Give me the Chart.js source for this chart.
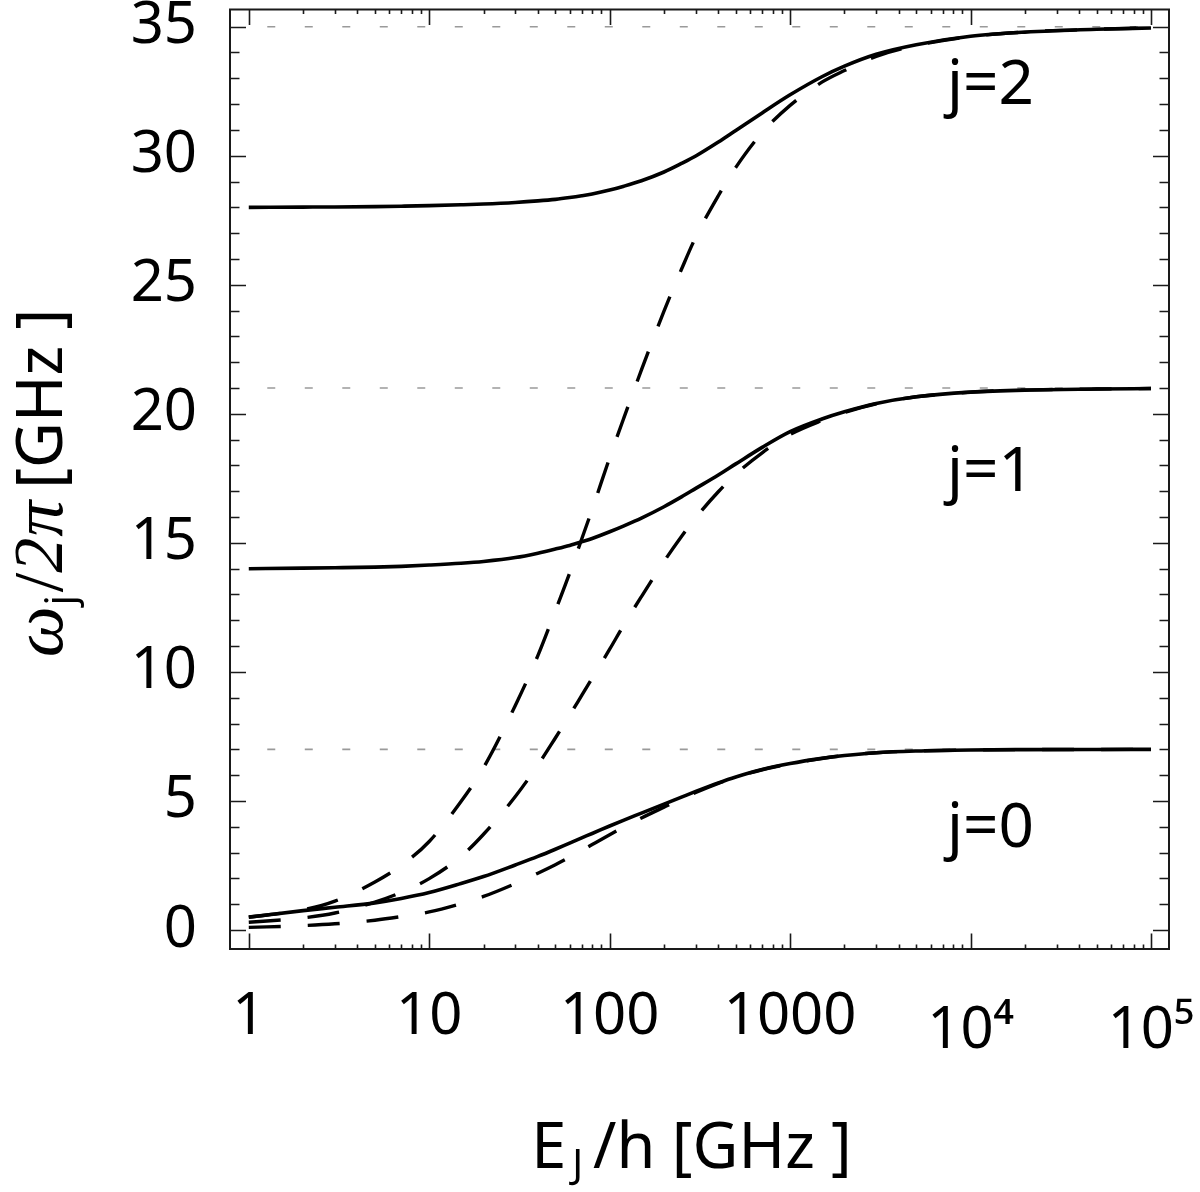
<!DOCTYPE html>
<html>
<head>
<meta charset="utf-8">
<script src="https://cdn.jsdelivr.net/npm/chart.js@4.4.1/dist/chart.umd.min.js"></script>
<style>
html,body{margin:0;padding:0;background:#ffffff;}
#wrap{width:1200px;height:1192px;position:relative;}
</style>
</head>
<body>
<div id="wrap"><canvas id="c" width="1200" height="1192"></canvas></div>
<script>
// ---------------- DATA ----------------
const xValues   = [1, 2, 3, 5, 7, 10, 15, 20, 30, 40, 50, 60, 70, 80, 100, 120, 150, 200, 250, 300, 400, 500, 700, 1000, 1500, 2000, 3000, 5000, 10000, 20000, 50000, 100000];
// exact levels (solid)
const solidJ0   = [0.50, 0.75, 0.88, 1.05, 1.22, 1.45, 1.80, 2.07, 2.52, 2.85, 3.13, 3.37, 3.57, 3.74, 4.03, 4.26, 4.53, 4.88, 5.15, 5.37, 5.70, 5.93, 6.22, 6.45, 6.65, 6.76, 6.87, 6.935, 6.975, 6.99, 6.995, 7.00];
const solidJ1   = [14.00, 14.02, 14.035, 14.06, 14.09, 14.14, 14.21, 14.28, 14.43, 14.60, 14.76, 14.90, 15.04, 15.17, 15.43, 15.66, 15.96, 16.40, 16.78, 17.11, 17.63, 18.06, 18.70, 19.31, 19.80, 20.08, 20.40, 20.66, 20.84, 20.92, 20.96, 20.98];
const solidJ2   = [28.00, 28.01, 28.015, 28.03, 28.045, 28.065, 28.10, 28.13, 28.19, 28.25, 28.31, 28.38, 28.45, 28.52, 28.67, 28.82, 29.03, 29.37, 29.70, 29.99, 30.53, 30.98, 31.66, 32.36, 33.06, 33.47, 33.93, 34.30, 34.63, 34.79, 34.90, 34.95];
// approximations (dashed)
const dashedJ0  = [0.10, 0.17, 0.24, 0.38, 0.52, 0.70, 1.02, 1.30, 1.80, 2.20, 2.53, 2.82, 3.08, 3.31, 3.69, 3.99, 4.34, 4.76, 5.08, 5.33, 5.68, 5.92, 6.21, 6.44, 6.65, 6.76, 6.87, 6.935, 6.975, 6.99, 6.995, 7.00];
const dashedJ1  = [0.30, 0.47, 0.66, 1.08, 1.46, 1.99, 2.85, 3.71, 5.17, 6.39, 7.44, 8.32, 9.09, 9.76, 10.88, 11.83, 12.92, 14.28, 15.25, 15.98, 16.98, 17.66, 18.49, 19.20, 19.74, 20.05, 20.39, 20.66, 20.84, 20.92, 20.96, 20.98];
const dashedJ2  = [0.50, 0.78, 1.12, 1.86, 2.50, 3.43, 4.98, 6.29, 8.70, 10.63, 12.37, 13.83, 15.15, 16.30, 18.30, 19.85, 21.70, 23.98, 25.60, 26.85, 28.45, 29.55, 30.90, 31.95, 32.85, 33.30, 33.85, 34.27, 34.62, 34.79, 34.90, 34.95];
// asymptotic levels (grey dashed)
const asymptotes = [7, 21, 35];
// tick values and labels
const xTickValues = [1, 10, 100, 1000, 10000, 100000];
const xTickLabels = ['1', '10', '100', '1000', ['', '10\u2074'], ['', '10\u2075']];
const yTickValues = [0, 5, 10, 15, 20, 25, 30, 35];
// level annotations
const levelLabels = ['j=0', 'j=1', 'j=2'];
const levelLabelX = 7400;
const levelLabelY = [3.2, 17.0, 32.0];

// ---------------- BUILD ----------------
const pts = arr => xValues.map((x, i) => ({x: x, y: arr[i]}));
const SANS = "'Noto Sans', 'Open Sans', 'DejaVu Sans', sans-serif";
const SERIF = "'Liberation Serif', 'DejaVu Serif', serif";

const datasets = [];
[dashedJ0, dashedJ1, dashedJ2].forEach((arr, k) => datasets.push({
  label: 'approx j=' + k, data: pts(arr), borderColor: '#000', borderWidth: 3.4,
  borderDash: [32, 27], borderCapStyle: 'butt', pointRadius: 0, fill: false,
  cubicInterpolationMode: 'monotone', order: 1
}));
[solidJ0, solidJ1, solidJ2].forEach((arr, k) => datasets.push({
  label: 'j=' + k, data: pts(arr), borderColor: '#000', borderWidth: 3.6,
  pointRadius: 0, fill: false, cubicInterpolationMode: 'monotone', order: 2
}));
asymptotes.forEach(v => datasets.push({
  label: 'level ' + v, data: [{x: xValues[0], y: v}, {x: xValues[xValues.length - 1], y: v}],
  borderColor: '#9a9a9a', borderWidth: 1.6, borderDash: [8, 29.5], borderDashOffset: 19,
  pointRadius: 0, fill: false, order: 3
}));

const framePlugin = {
  id: 'frame',
  afterDatasetsDraw(chart) {
    const {ctx, chartArea: a, scales: {x, y}} = chart;
    ctx.save();
    ctx.strokeStyle = '#1a1a1a';
    ctx.lineWidth = 2;
    ctx.strokeRect(a.left, a.top, a.right - a.left, a.bottom - a.top);
    ctx.lineWidth = 1.6;
    ctx.beginPath();
    for (let d = 0; d <= 5; d++) {
      for (let k = 1; k <= 9; k++) {
        const v = k * Math.pow(10, d);
        if (v < x.min || v > x.max) continue;
        const px = Math.round(x.getPixelForValue(v)) + 0.5;
        const len = k === 1 ? 15.5 : 4.5;
        ctx.moveTo(px, a.bottom); ctx.lineTo(px, a.bottom - len);
        ctx.moveTo(px, a.top); ctx.lineTo(px, a.top + len);
      }
    }
    for (let v = 0; v <= 35; v++) {
      const py = Math.round(y.getPixelForValue(v)) + 0.5;
      const len = v % 5 === 0 ? 16 : 9.5;
      ctx.moveTo(a.left, py); ctx.lineTo(a.left + len, py);
      ctx.moveTo(a.right, py); ctx.lineTo(a.right - len, py);
    }
    ctx.stroke();
    ctx.restore();
  }
};

function drawRich(ctx, parts, cx, cy) {
  let total = 0;
  parts.forEach(p => { ctx.font = p.font; p.w = ctx.measureText(p.t).width; total += p.w + (p.gap || 0); });
  let xx = cx - total / 2;
  parts.forEach(p => { ctx.font = p.font; ctx.fillText(p.t, xx, cy + (p.dy || 0)); xx += p.w + (p.gap || 0); });
}

const textPlugin = {
  id: 'texts',
  afterDraw(chart) {
    const {ctx, scales: {x, y}} = chart;
    ctx.save();
    ctx.fillStyle = '#000';
    ctx.textBaseline = 'alphabetic';
    ctx.textAlign = 'left';
    ctx.font = '62px ' + SANS;
    levelLabels.forEach((t, i) => {
      ctx.fillText(t, x.getPixelForValue(levelLabelX), y.getPixelForValue(levelLabelY[i]));
    });
    drawRich(ctx, [
      {t: 'E', font: '63px ' + SANS, gap: 6},
      {t: 'J', font: '40px ' + SANS, dy: 10, gap: 10},
      {t: '/h [GHz ]', font: '63px ' + SANS}
    ], (chart.chartArea.left + chart.chartArea.right) / 2 - 8, 1168);
    ctx.translate(62, 483);
    ctx.rotate(-Math.PI / 2);
    drawRich(ctx, [
      {t: '\u03c9', font: 'italic 72px ' + SERIF, gap: 1},
      {t: 'j', font: '40px ' + SANS, dy: 12, gap: 3},
      {t: '/', font: '70px ' + SERIF, gap: 0},
      {t: '2', font: 'italic 70px ' + SERIF, gap: 1},
      {t: '\u03c0', font: 'italic 72px ' + SERIF, gap: 12},
      {t: '[GHz ]', font: '63px ' + SANS}
    ], 0, 0);
    ctx.restore();
  }
};

new Chart(document.getElementById('c'), {
  type: 'line',
  data: {datasets: datasets},
  plugins: [framePlugin, textPlugin],
  options: {
    responsive: false,
    devicePixelRatio: 1,
    animation: false,
    events: [],
    layout: {padding: {top: 9.5, right: 31, left: 0, bottom: 0}},
    plugins: {legend: {display: false}, tooltip: {enabled: false}},
    scales: {
      x: {
        type: 'logarithmic', position: 'bottom', min: 0.787, max: 125800,
        grid: {display: false}, border: {display: false},
        ticks: {
          color: '#000', font: {family: SANS, size: 58, lineHeight: '14px'},
          padding: 53, autoSkip: false, maxRotation: 0, minRotation: 0,
          callback: (v, i) => xTickLabels[i]
        },
        afterBuildTicks: s => { s.ticks = xTickValues.map(v => ({value: v})); },
        afterFit: s => { s.height = 243; s.paddingLeft = 0; s.paddingRight = 0; }
      },
      y: {
        type: 'linear', position: 'left', min: -0.736, max: 35.666,
        grid: {display: false}, border: {display: false},
        ticks: {
          color: '#000', font: {family: SANS, size: 58}, padding: 25,
          callback: v => String(v)
        },
        afterBuildTicks: s => { s.ticks = yTickValues.map(v => ({value: v})); },
        afterFit: s => { s.width = 230; s.paddingTop = 0; s.paddingBottom = 0; }
      }
    }
  }
});
</script>
</body>
</html>
